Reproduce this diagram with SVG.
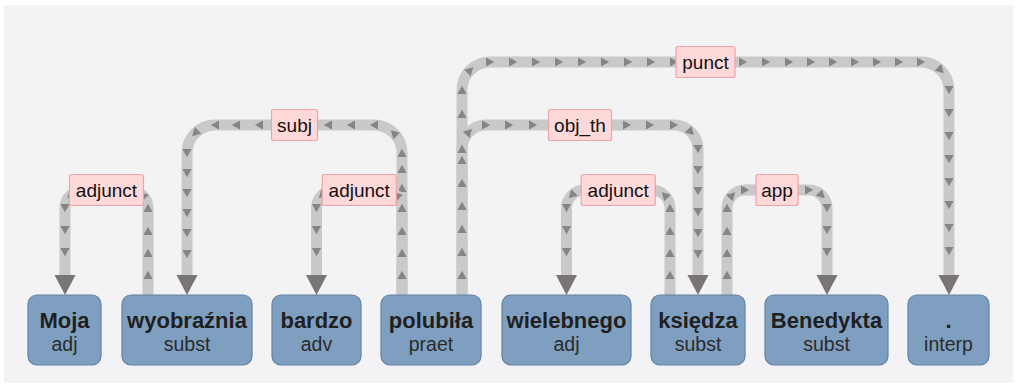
<svg xmlns="http://www.w3.org/2000/svg" width="1017" height="390" viewBox="0 0 1017 390">
  <defs>
    <style>
      .link { fill: none; stroke: #c9c9c9; stroke-width: 11; marker-mid: url(#tick); marker-end: url(#head); }
      .lbl rect { fill: #ffd9d9; stroke: #f2a3a3; stroke-width: 1.2; }
      .lbl text { font-family: "Liberation Sans", Arial, sans-serif; font-size: 19px; fill: #111; text-anchor: middle; }
      .node rect { fill: #7f9fc0; stroke: #6282a3; stroke-width: 1.2; }
      .node .w { font-family: "Liberation Sans", Arial, sans-serif; font-size: 22px; font-weight: bold; fill: #1f1f1f; text-anchor: middle; }
      .node .t { font-family: "Liberation Sans", Arial, sans-serif; font-size: 19.5px; fill: #2b2b2b; text-anchor: middle; }
    </style>
    <!-- small direction ticks along each arc -->
    <marker id="tick" markerUnits="userSpaceOnUse" viewBox="-6 -6 12 12" markerWidth="12" markerHeight="12" refX="0" refY="0" orient="auto">
      <path d="M-4,-4.6 L4.2,0 L-4,4.6 Z" fill="#858585"/>
    </marker>
    <!-- big arrowhead at the dependent token -->
    <marker id="head" markerUnits="userSpaceOnUse" viewBox="0 -11 21 22" markerWidth="21" markerHeight="22" refX="0" refY="0" orient="auto">
      <path d="M0,-10.5 L20,0 L0,10.5 Z" fill="#7a7575"/>
    </marker>
  </defs>

  <rect x="0" y="0" width="1017" height="390" fill="#ffffff"/>
  <rect x="4" y="5" width="1009" height="378" fill="#f3f3f5"/>

  <g id="connectors">
    <g id="e-adjunct-1">
      <path class="link" d="M148,295 v-20 v-22 v-22 v-23 a18,18 0 0 0 -5.27,-12.73 a18,18 0 0 0 -12.73,-5.27 h-23.5 h-23.5 a18,18 0 0 0 -12.73,5.27 a18,18 0 0 0 -5.27,12.73 v22 v22 v23"/>
    </g>
    <g id="e-subj">
      <path class="link" d="M402,295 v-20 v-22 v-22 v-23 v-20 v-19 v-16 a28,28 0 0 0 -8.2,-19.8 a28,28 0 0 0 -19.8,-8.2 h-23 h-23 h-23 h-23 h-23 h-23 h-21 a28,28 0 0 0 -19.8,8.2 a28,28 0 0 0 -8.2,19.8 v20 v20 v20 v20 v21 v21"/>
    </g>
    <g id="e-adjunct-2">
      <path class="link" d="M402,295 v-20 v-22 v-22 v-23 a18,18 0 0 0 -5.27,-12.73 a18,18 0 0 0 -12.73,-5.27 h-24.75 h-24.75 a18,18 0 0 0 -12.73,5.27 a18,18 0 0 0 -5.27,12.73 v22 v22 v23"/>
    </g>
    <g id="e-punct">
      <path class="link" d="M462,295 v-20 v-23 v-23 v-23 v-23 v-23 v-23 v-23 v-24 a28,28 0 0 1 8.2,-19.8 a28,28 0 0 1 19.8,-8.2 h23 h23 h23 h23 h23 h23 h23 h23 h23 h23 h23 h23 h23 h22 h22 h22 h22 h22 h22 a28,28 0 0 1 19.8,8.2 a28,28 0 0 1 8.2,19.8 v23 v23 v23 v23 v23 v23 v23 v24"/>
    </g>
    <g id="e-obj-th">
      <path class="link" d="M462,295 v-20 v-23 v-23 v-23 v-23 v-23 v-11 a24,24 0 0 1 7.03,-16.97 a24,24 0 0 1 16.97,-7.03 h23 h24 h23 h24 h23 h24 h23 h24 a24,24 0 0 1 16.97,7.03 a24,24 0 0 1 7.03,16.97 v21 v21 v21 v21 v21 v21"/>
    </g>
    <g id="e-adjunct-3">
      <path class="link" d="M670,295 v-20 v-22 v-22 v-23 a18,18 0 0 0 -5.27,-12.73 a18,18 0 0 0 -12.73,-5.27 h-22.5 h-22.5 h-22.5 a18,18 0 0 0 -12.73,5.27 a18,18 0 0 0 -5.27,12.73 v22 v22 v23"/>
    </g>
    <g id="e-app">
      <path class="link" d="M727,295 v-20 v-22 v-22 v-23 a18,18 0 0 1 5.27,-12.73 a18,18 0 0 1 12.73,-5.27 h21 h21 h22 a18,18 0 0 1 12.73,5.27 a18,18 0 0 1 5.27,12.73 v22 v22 v23"/>
    </g>

    <!-- relation labels -->
    <g class="lbl"><rect x="69.5" y="174.5" width="74" height="31" rx="2"/><text x="106.5" y="196.5">adjunct</text></g>
    <g class="lbl"><rect x="271.5" y="109.5" width="46" height="31" rx="2"/><text x="294.5" y="131.5">subj</text></g>
    <g class="lbl"><rect x="322.25" y="174.5" width="74" height="31" rx="2"/><text x="359.25" y="196.5">adjunct</text></g>
    <g class="lbl"><rect x="676" y="46.5" width="59" height="31" rx="2"/><text x="705.5" y="68.5">punct</text></g>
    <g class="lbl"><rect x="548.5" y="109.5" width="63" height="31" rx="2"/><text x="580" y="131.5">obj_th</text></g>
    <g class="lbl"><rect x="581.25" y="174.5" width="74" height="31" rx="2"/><text x="618.25" y="196.5">adjunct</text></g>
    <g class="lbl"><rect x="756" y="174.5" width="42" height="31" rx="2"/><text x="777" y="196.5">app</text></g>
  </g>

  <g id="n-moja" class="node"><rect x="28" y="295" width="73" height="70" rx="9"/><text class="w" x="64.5" y="328">Moja</text><text class="t" x="64.5" y="351">adj</text></g>
  <g id="n-wyobraznia" class="node"><rect x="122" y="295" width="130" height="70" rx="9"/><text class="w" x="187" y="328">wyobraźnia</text><text class="t" x="187" y="351">subst</text></g>
  <g id="n-bardzo" class="node"><rect x="272" y="295" width="89" height="70" rx="9"/><text class="w" x="316.5" y="328">bardzo</text><text class="t" x="316.5" y="351">adv</text></g>
  <g id="n-polubila" class="node"><rect x="381" y="295" width="100" height="70" rx="9"/><text class="w" x="431" y="328">polubiła</text><text class="t" x="431" y="351">praet</text></g>
  <g id="n-wielebnego" class="node"><rect x="502" y="295" width="129" height="70" rx="9"/><text class="w" x="566.5" y="328">wielebnego</text><text class="t" x="566.5" y="351">adj</text></g>
  <g id="n-ksiedza" class="node"><rect x="651" y="295" width="94" height="70" rx="9"/><text class="w" x="698" y="328">księdza</text><text class="t" x="698" y="351">subst</text></g>
  <g id="n-benedykta" class="node"><rect x="765" y="295" width="123" height="70" rx="9"/><text class="w" x="826.5" y="328">Benedykta</text><text class="t" x="826.5" y="351">subst</text></g>
  <g id="n-dot" class="node"><rect x="908" y="295" width="81" height="70" rx="9"/><text class="w" x="948.5" y="328">.</text><text class="t" x="948.5" y="351">interp</text></g>
</svg>
